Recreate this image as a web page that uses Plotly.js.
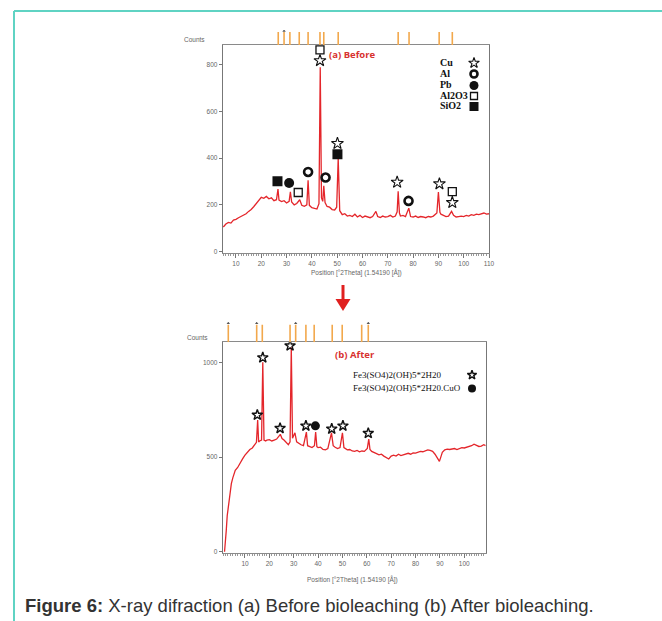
<!DOCTYPE html>
<html><head><meta charset="utf-8">
<script src="https://cdn.plot.ly/plotly-3.0.1.min.js"></script>
<style>html,body{margin:0;padding:0;background:#fff}#chart{width:662px;height:621px}</style>
</head><body><div id="chart"></div>
<script>
// ---------- (a) Before : XRD pattern ----------
const topTheta = [5,6,7,8,9,10,11,12,13,14,15,16,17,18,19,20,21,22,23,24,25,26,26.6,27,28,29,30,31.0,31.5,32,33,34,35.2,36,37,38,38.5,39,40,41,42,42.8,43.3,43.8,44.3,44.7,45.2,46,47,48,49,49.8,50.4,51,52,53,54,55,56,57,58,59,60,61,62,63,64,65.3,66,67,68,69,70,71,72,73,73.7,74.1,74.6,75,76,77,78.3,79,80,81,82,83,84,85,86,87,88,89.4,90.0,90.6,91,92,93,94,95.2,96,97,98,99,100,101,102,103,104,105,106,107,108,109,110];
const topCounts = [105,118,125,122,135,138,145,150,158,162,172,180,192,205,215,232,228,236,226,230,218,222,268,220,214,218,208,215,256,212,200,206,222,198,194,200,305,198,188,184,182,205,790,230,215,282,210,193,190,180,178,190,400,175,158,162,152,155,150,160,148,155,146,152,150,145,150,172,150,146,152,148,150,155,148,152,170,258,165,152,155,150,186,150,148,152,146,150,148,145,150,148,152,165,255,168,160,156,150,152,172,155,148,150,152,150,155,152,158,155,160,158,160,165,160,162];
// reference stick pattern positions (°2θ)
const topSticks = [26.7,29.0,31.3,35.0,38.5,43.2,44.7,50.4,74.1,78.4,90.3,95.5];
const topStickCaps = [29.0];
// phase markers on peaks
const topMarkTheta = [26.4,31.0,34.6,38.5,45.4,50.1,50.1,73.7,78.2,90.4,95.5,95.5,43.2,43.2];
const topMarkCounts = [301,294,253,341,317,463,417,297,217,290,257,210,864,818];
const topMarkPhase = ["SiO2","Pb","Al2O3","Al","Al","Cu","SiO2","Cu","Al","Cu","Al2O3","Cu","Al2O3","Cu"];
const topPhases = ["Cu","Al","Pb","Al2O3","SiO2"];

// ---------- (b) After : XRD pattern ----------
const botTheta = [1.6,1.9,2.3,2.7,3.2,3.8,4.4,5,6,7,8,9,10,11,12,13,14,14.7,15.2,15.6,16,16.8,17.3,17.8,18.5,19,20,21,22,23,24.5,25.2,26,27,27.8,28.5,29.0,29.5,30.5,31.2,32,33,34,35.2,35.7,36.5,37.5,38.5,39.0,39.5,40,41,42,43,44,45.5,46.2,47,48,49,50,50.6,51.5,52,53,54,55,56,57,58,59,60.2,60.8,61.3,62,63,64,65,66,67,68,69,70,71,72,73,74,75,76,77,78,79,80,81,82,83,84,85,86,87,88,89,89.8,90.5,91,92,93,94,95,96,97,98,99,100,101,102,103,104,105,106,107,108,108.8];
const botCounts = [0,80,110,190,250,310,360,390,430,445,470,490,510,525,540,548,565,578,695,580,585,590,1000,590,585,590,592,585,590,595,620,598,590,575,565,580,1080,600,628,580,572,565,560,632,560,556,550,560,632,555,550,552,540,538,545,628,560,552,545,550,628,550,545,538,540,532,530,535,528,532,530,545,595,540,530,522,518,512,515,505,498,490,505,510,505,515,508,512,518,520,515,522,521,525,530,528,535,538,535,530,515,495,477,505,525,538,542,540,542,545,540,545,550,548,552,555,560,568,560,556,558,565,560];
const botSticks = [3.15,14.8,17.1,28.5,30.8,35.0,38.4,45.8,49.9,57.9,60.6];
const botStickCaps = [3.15,14.8,30.8,60.6];
const botMarkTheta = [15.05,17.3,28.5,24.4,35.0,38.9,45.6,50.2,60.6];
const botMarkCounts = [722,1025,1088,652,665,665,649,665,626];
const botMarkPhase = ["Fe","Fe","Fe","Fe","Fe","FeCuO","Fe","Fe","Fe"];
const botPhases = ["Fe3(SO4)2(OH)5*2H20","Fe3(SO4)2(OH)5*2H20.CuO"];

// ---------- styles ----------
const W = 662, H = 621;
const px = x => x / W, py = y => 1 - y / H;
const red = '#e4262b', stickCol = '#f2a84c';
const symTop = {
  "Cu":    {symbol:'star-open', size:9, lw:1.1},
  "Al":    {symbol:'circle-open', size:8, lw:2.6},
  "Pb":    {symbol:'circle', size:10, lw:0},
  "Al2O3": {symbol:'square-open', size:8, lw:1.3},
  "SiO2":  {symbol:'square', size:10, lw:0}
};
const symBot = {
  "Fe":    {symbol:'star-open', size:8, lw:1.4},
  "FeCuO": {symbol:'circle', size:9, lw:0}
};
const mk = (s, d) => ({symbol:s.symbol, size:s.size + (d || 0), color:'#111', line:{color:'#111', width:s.lw}});

function sticks(pos, xa, ya) {
  const x = [], y = [];
  pos.forEach(p => { x.push(p, p, null); y.push(0, 1, null); });
  return {x, y, xaxis:xa, yaxis:ya, mode:'lines', line:{color:stickCol, width:1.6}, hoverinfo:'skip', showlegend:false};
}
function caps(pos, xa, ya) {
  return {x:pos, y:pos.map(() => 1.08), xaxis:xa, yaxis:ya, mode:'markers',
    marker:{symbol:'triangle-up', size:3, color:'#555'}, hoverinfo:'skip', showlegend:false};
}
function markGroups(th, ct, ph, styles, xa, ya) {
  return Object.keys(styles).map(k => {
    const idx = ph.map((p, i) => p === k ? i : -1).filter(i => i >= 0);
    return {x: idx.map(i => th[i]), y: idx.map(i => ct[i]), xaxis:xa, yaxis:ya, mode:'markers',
      marker:mk(styles[k]), hoverinfo:'skip', showlegend:false};
  });
}

const data = [
  {x:topTheta, y:topCounts, xaxis:'x', yaxis:'y', mode:'lines', line:{color:red, width:1.3}, showlegend:false},
  ...markGroups(topMarkTheta, topMarkCounts, topMarkPhase, symTop, 'x', 'y'),
  sticks(topSticks, 'x', 'y3'), caps(topStickCaps, 'x', 'y3'),
  {x:botTheta, y:botCounts, xaxis:'x2', yaxis:'y2', mode:'lines', line:{color:red, width:1.3}, showlegend:false},
  ...markGroups(botMarkTheta, botMarkCounts, botMarkPhase, symBot, 'x2', 'y2'),
  sticks(botSticks, 'x2', 'y4'), caps(botStickCaps, 'x2', 'y4')
];

// legend key symbols (overlay axis in page pixels)
const keyTopY = [63, 74, 85.5, 96, 106.5];
topPhases.forEach((k, i) => {
  data.push({x:[474], y:[keyTopY[i]], xaxis:'x5', yaxis:'y5', mode:'markers',
    marker:mk(symTop[k], -1), hoverinfo:'skip', showlegend:false});
});
const keyBotY = [375, 388.5];
["Fe","FeCuO"].forEach((k, i) => {
  data.push({x:[472], y:[keyBotY[i]], xaxis:'x5', yaxis:'y5', mode:'markers',
    marker:mk(symBot[k], -1), hoverinfo:'skip', showlegend:false});
});

const tickFont = {family:'Liberation Sans, Arial, sans-serif', size:6.5, color:'#666'};
function xax(dom, range, anchor) {
  return {domain:dom, range:range, anchor:anchor, showline:true, linecolor:'#8a8a8a', linewidth:1, mirror:true,
    ticks:'outside', ticklen:4, tickcolor:'#777', tickwidth:1, dtick:10, tick0:0, tickfont:tickFont,
    minor:{dtick:1, tick0:0, ticks:'outside', ticklen:2, tickcolor:'#999'}, showgrid:false, zeroline:false, fixedrange:true};
}
function yax(dom, range, anchor, dtick) {
  return {domain:dom, range:range, anchor:anchor, showline:true, linecolor:'#777', linewidth:1, mirror:true,
    ticks:'outside', ticklen:3, tickcolor:'#777', dtick:dtick, tick0:0, tickfont:tickFont,
    showgrid:false, zeroline:false, fixedrange:true};
}
const hidden = (dom, range, anchor) => ({domain:dom, range:range, anchor:anchor, visible:false, fixedrange:true});

const topDomX = [px(222.7), px(489)], topDomY = [py(252.7), py(45)];
const botDomX = [px(222.7), px(485.7)], botDomY = [py(552.7), py(342.3)];

const serif = 'Liberation Serif, Times New Roman, serif';
const ann = [];
topPhases.forEach((k, i) => ann.push({xref:'paper', yref:'paper', x:px(438), y:py(keyTopY[i] - 0.5), text:'<b>' + k + '</b>',
  showarrow:false, xanchor:'left', yanchor:'middle', font:{family:serif, size:10, color:'#111'}}));
botPhases.forEach((k, i) => ann.push({xref:'paper', yref:'paper', x:px(351), y:py(keyBotY[i] - 0.5), text:k,
  showarrow:false, xanchor:'left', yanchor:'middle', font:{family:serif, size:9, color:'#111'}}));
ann.push(
  {xref:'paper', yref:'paper', x:px(327), y:py(55), text:'<b>(a) Before</b>', showarrow:false, xanchor:'left', yanchor:'middle',
   font:{family:'Open Sans, Liberation Sans, sans-serif', size:9.5, color:'#d8322f'}},
  {xref:'paper', yref:'paper', x:px(333), y:py(354), text:'<b>(b) After</b>', showarrow:false, xanchor:'left', yanchor:'middle',
   font:{family:'Open Sans, Liberation Sans, sans-serif', size:9.5, color:'#d8322f'}},
  {xref:'paper', yref:'paper', x:px(207), y:py(40), text:'Counts', showarrow:false, xanchor:'right', yanchor:'middle', font:tickFont},
  {xref:'paper', yref:'paper', x:px(210), y:py(337), text:'Counts', showarrow:false, xanchor:'right', yanchor:'middle', font:tickFont},
  {xref:'paper', yref:'paper', x:px(356), y:py(273), text:'Position [°2Theta] (1.54190 [Å])', showarrow:false, xanchor:'center', yanchor:'middle', font:tickFont},
  {xref:'paper', yref:'paper', x:px(353), y:py(579), text:'Position [°2Theta] (1.54190 [Å])', showarrow:false, xanchor:'center', yanchor:'middle', font:tickFont},
  {xref:'paper', yref:'paper', x:px(23), y:py(605), text:'<b>Figure 6:</b> X-ray difraction (a) Before bioleaching (b) After bioleaching.',
   showarrow:false, xanchor:'left', yanchor:'middle', font:{family:'Liberation Sans, Arial, sans-serif', size:18.5, color:'#333'}}
);

const shapes = [
  {type:'line', xref:'paper', yref:'paper', x0:px(14), y0:py(11), x1:1, y1:py(11), line:{color:'#5fd3c3', width:2}},
  {type:'line', xref:'paper', yref:'paper', x0:px(14), y0:py(11), x1:px(14), y1:0, line:{color:'#5fd3c3', width:2}},
  {type:'line', xref:'paper', yref:'paper', x0:px(343), y0:py(285), x1:px(343), y1:py(302), line:{color:'#e0201f', width:3}},
  {type:'path', xref:'paper', yref:'paper', path:`M ${px(335.5)} ${py(299)} L ${px(350.5)} ${py(299)} L ${px(343)} ${py(311)} Z`,
   fillcolor:'#e0201f', line:{width:0}}
];

const layout = {
  width:W, height:H, margin:{l:0, r:0, t:0, b:0}, paper_bgcolor:'#fff', plot_bgcolor:'rgba(0,0,0,0)', showlegend:false,
  xaxis: xax(topDomX, [4.75, 110], 'y'),
  yaxis: yax(topDomY, [-5, 885], 'x', 200),
  xaxis2: xax(botDomX, [0.85, 108.8], 'y2'),
  yaxis2: yax(botDomY, [-5, 1106], 'x2', 500),
  yaxis3: hidden([py(45), py(30)], [0, 1.15], 'x'),
  yaxis4: hidden([py(342.3), py(322)], [0, 1.15], 'x2'),
  xaxis5: hidden([0, 1], [0, W], 'y5'),
  yaxis5: hidden([0, 1], [H, 0], 'x5'),
  annotations: ann, shapes: shapes
};
Plotly.newPlot('chart', data, layout, {displayModeBar:false, staticPlot:true});
</script></body></html>
